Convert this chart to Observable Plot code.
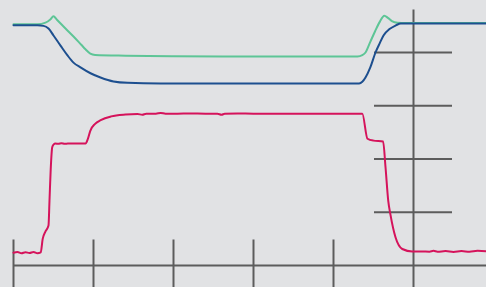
<!DOCTYPE html>
<html><head><meta charset="utf-8">
<script src="https://cdn.jsdelivr.net/npm/d3@7"></script>
<script src="https://cdn.jsdelivr.net/npm/@observablehq/plot@0.6"></script>
<style>html,body{margin:0;padding:0;background:#e1e2e4;overflow:hidden}</style>
</head><body><div id="chart"></div><script>
// x in seconds (ticks every 10), y in units (ticks every 1)
const xTicks = [0, 10, 20, 30, 40];
const xMainTick = [50];
const yTicks = [1, 2, 3, 4];

const greenSeries = [
  [0, 4.53], [3.0, 4.53], [4.0, 4.56], [4.6, 4.62], [5.0, 4.68], [5.4, 4.62],
  [6.5, 4.45], [7.5, 4.30], [8.5, 4.14], [9.0, 4.06], [9.6, 3.98], [10.2, 3.955],
  [14, 3.94], [20, 3.93], [30, 3.925], [43.0, 3.925], [43.6, 3.95], [44.0, 4.0],
  [44.6, 4.2], [45.2, 4.40], [45.8, 4.58], [46.35, 4.69], [46.8, 4.65], [47.3, 4.59],
  [48.0, 4.56], [49, 4.555], [59.125, 4.555]
];
const blueSeries = [
  [0, 4.51], [3.0, 4.51], [3.75, 4.50], [4.375, 4.45], [5.0, 4.32], [5.875, 4.13],
  [6.75, 3.945], [7.5, 3.81], [8.375, 3.72], [9.625, 3.61], [10.875, 3.53],
  [12.5, 3.455], [14.25, 3.43], [18.4, 3.42], [30, 3.418], [43.2, 3.418],
  [43.6, 3.45], [44.0, 3.53], [44.6, 3.72], [45.25, 4.0], [45.8, 4.18], [46.25, 4.32],
  [47.0, 4.44], [47.8, 4.51], [48.4, 4.545], [59.125, 4.545]
];
const redSeries = [
  [0, 0.24], [0.5, 0.255], [1, 0.23], [1.5, 0.25], [2, 0.235], [2.5, 0.255], [3, 0.23],
  [3.4, 0.245], [3.65, 0.5], [4.0, 0.64], [4.375, 0.75], [4.5, 1.22], [4.65, 1.8],
  [4.84, 2.22], [5.0, 2.27], [5.25, 2.29], [5.6, 2.285], [6.0, 2.295], [6.4, 2.285],
  [6.8, 2.29], [7.5, 2.29], [8.3, 2.29], [9.0, 2.29], [9.3, 2.38], [9.6, 2.53],
  [10.2, 2.66], [10.9, 2.73], [12.2, 2.80], [14.0, 2.835], [15.5, 2.845], [16.1, 2.83],
  [16.6, 2.85], [17.8, 2.85], [18.4, 2.865], [19.0, 2.85], [20.5, 2.85], [22.0, 2.855],
  [24.0, 2.85], [25.5, 2.85], [26.0, 2.83], [26.4, 2.85], [28.0, 2.855], [30.0, 2.85],
  [33.0, 2.85], [36.0, 2.85], [40.0, 2.85], [43.6, 2.85], [44.25, 2.38], [45.0, 2.345],
  [46.2, 2.33], [46.5, 1.85], [46.84, 1.22], [47.125, 0.95], [47.75, 0.53],
  [48.6, 0.31], [49.84, 0.263], [51.0, 0.265], [52.0, 0.26],
  [52.5, 0.275], [53.0, 0.26], [54.0, 0.27], [55.0, 0.255], [56.0, 0.27],
  [57.0, 0.26], [58.0, 0.275], [59.125, 0.265]
];

const axisColor = "#5c5c5c";
const chart = Plot.plot({
  width: 486, height: 287, margin: 0,
  x: {domain: [-1.625, 59.125], axis: null},
  y: {domain: [-0.4131, 4.9765], axis: null},
  style: {background: "#e1e2e4"},
  marks: [
    Plot.ruleX(xTicks, {y1: 0.479, y2: -0.4131, stroke: axisColor, strokeWidth: 2}),
    Plot.ruleX(xMainTick, {y1: 4.80, y2: -0.4131, stroke: axisColor, strokeWidth: 2}),
    Plot.ruleY([0], {x1: 0, x2: 59.125, stroke: axisColor, strokeWidth: 2}),
    Plot.ruleY(yTicks, {x1: 45.125, x2: 54.875, stroke: axisColor, strokeWidth: 2}),
    Plot.line(redSeries, {x: d => d[0], y: d => d[1], stroke: "#d5135b", strokeWidth: 2, curve: "monotone-x"}),
    Plot.line(greenSeries, {x: d => d[0], y: d => d[1], stroke: "#5dc596", strokeWidth: 2, curve: "monotone-x"}),
    Plot.line(blueSeries, {x: d => d[0], y: d => d[1], stroke: "#1d4f8f", strokeWidth: 2, curve: "monotone-x"})
  ]
});
document.getElementById("chart").appendChild(chart);
</script></body></html>
